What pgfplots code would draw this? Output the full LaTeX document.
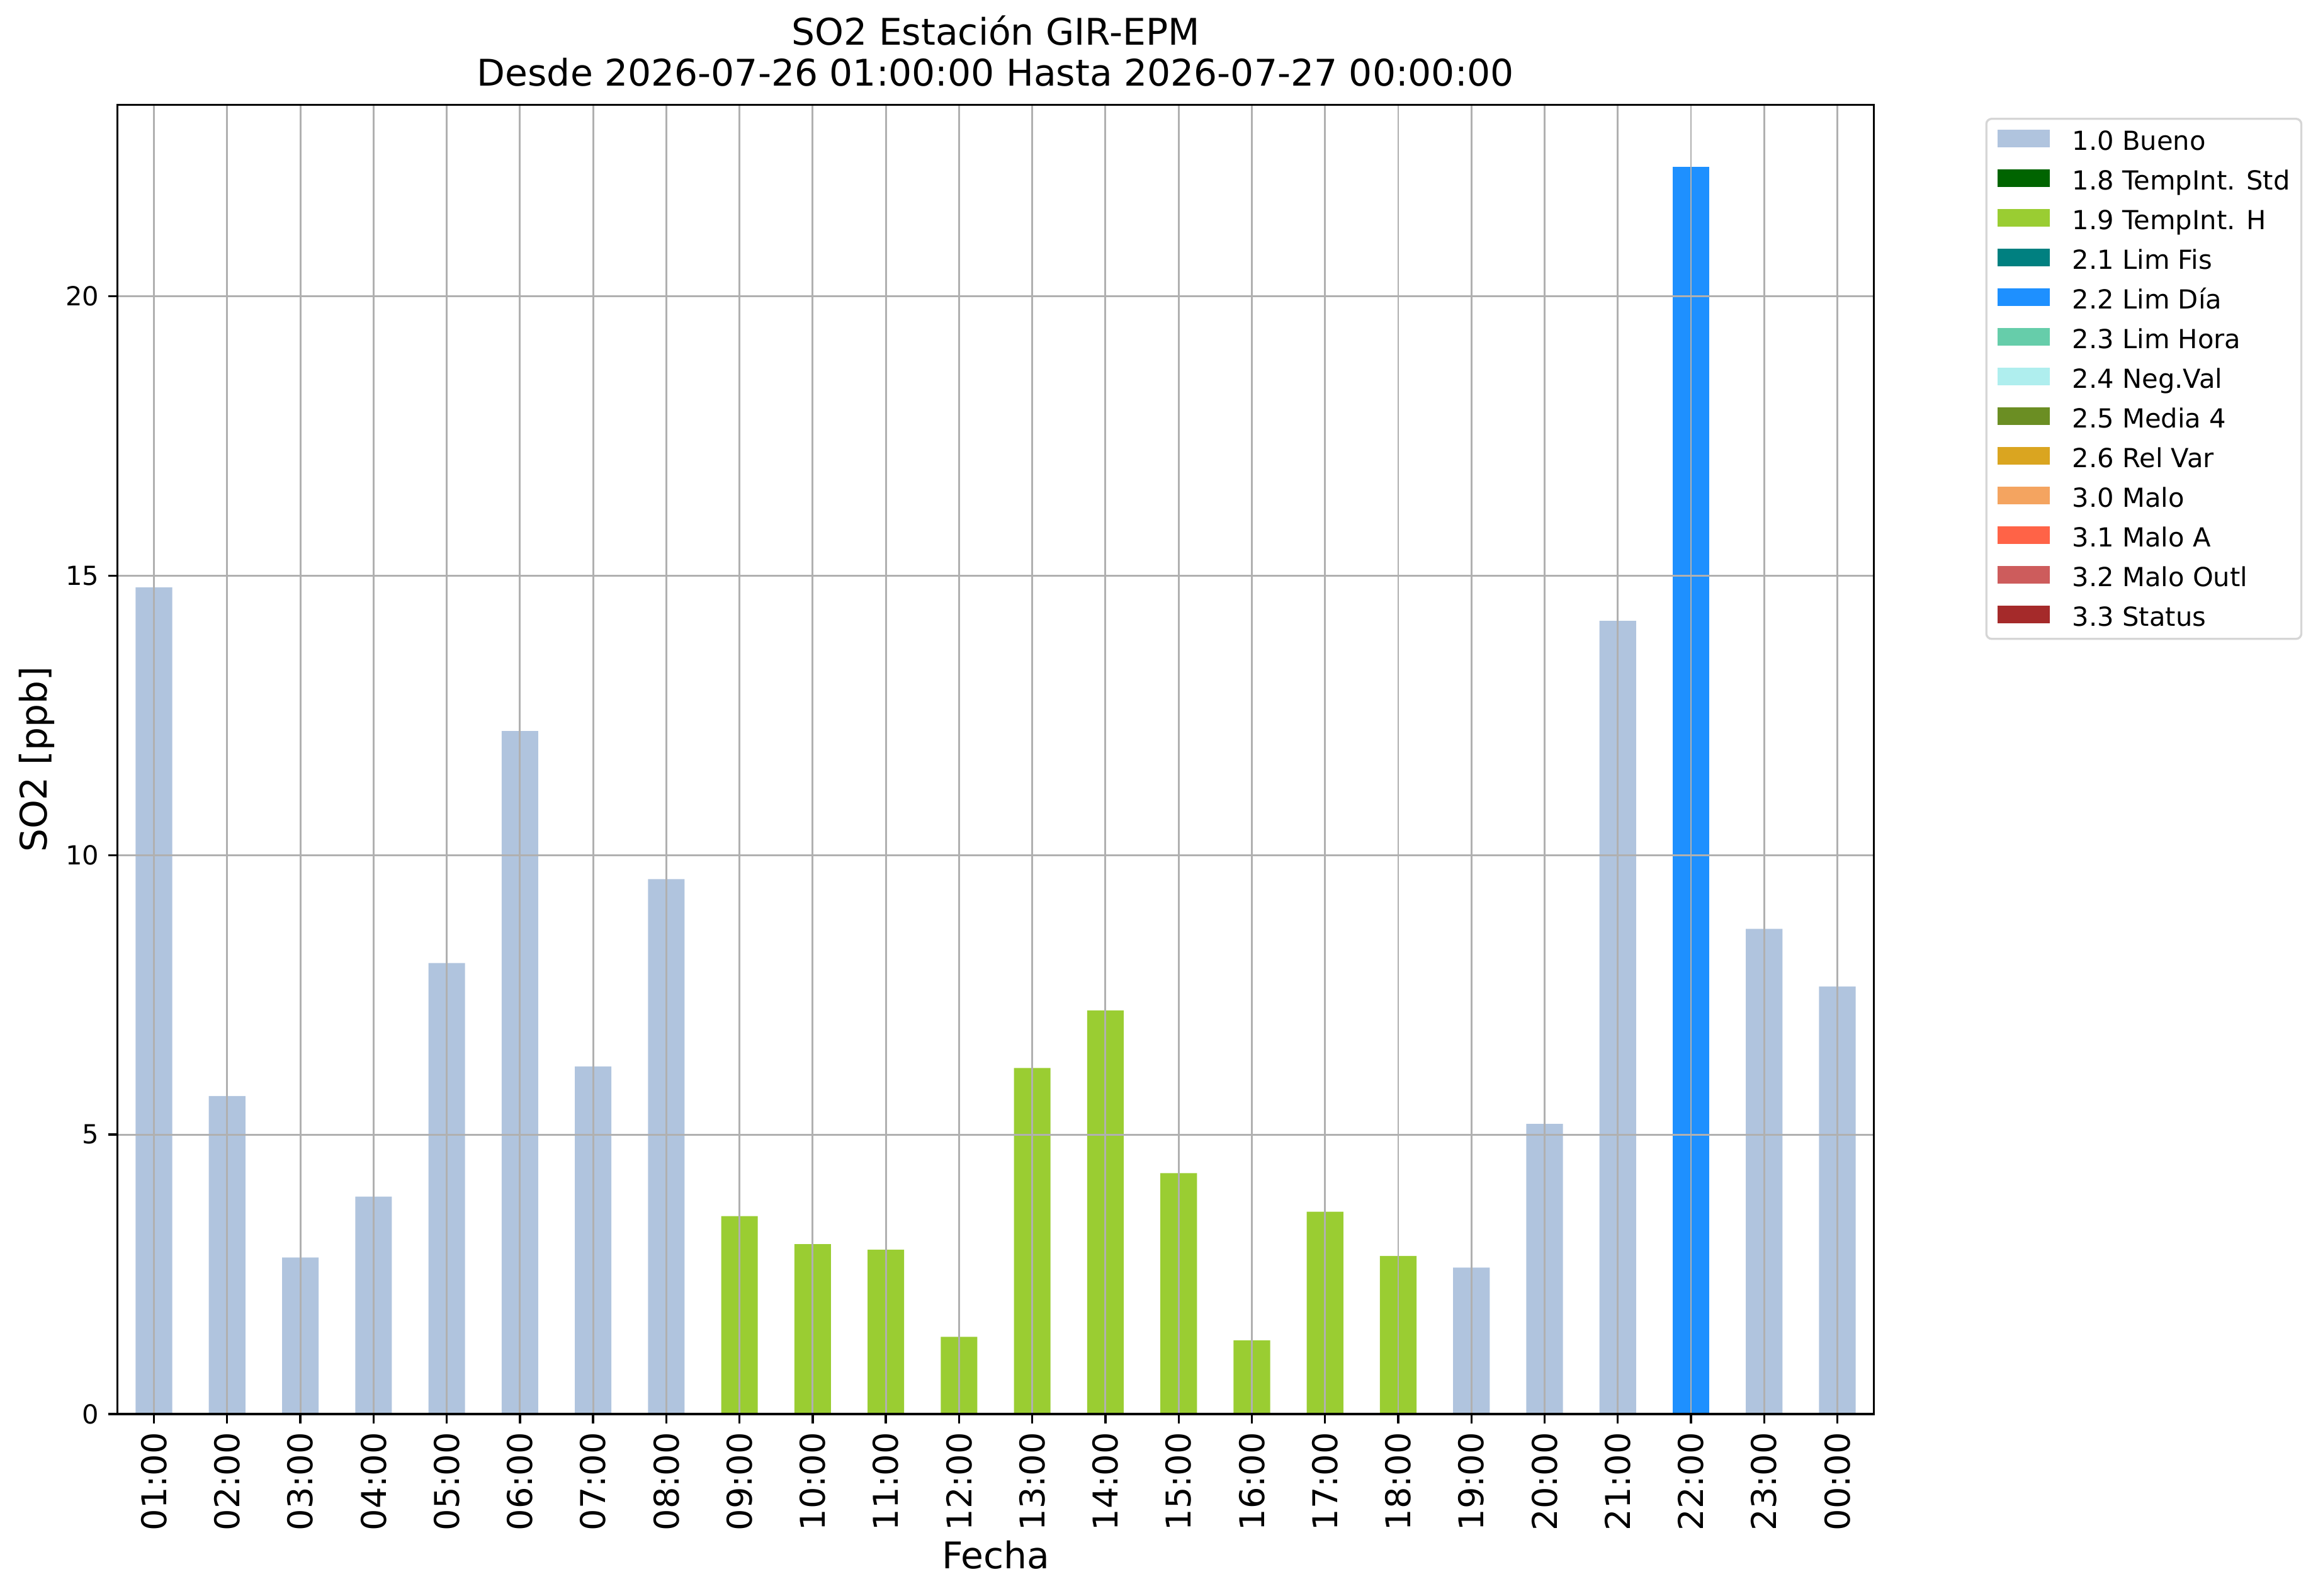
\documentclass[border=0pt]{standalone}
\usepackage{fontspec}
\setmainfont{DejaVu Sans}
\usepackage{pgfplots}
\pgfplotsset{compat=1.18}
\definecolor{c10}{HTML}{B0C4DE}
\definecolor{c18}{HTML}{006400}
\definecolor{c19}{HTML}{9ACD32}
\definecolor{c21}{HTML}{008080}
\definecolor{c22}{HTML}{1E90FF}
\definecolor{c23}{HTML}{66CDAA}
\definecolor{c24}{HTML}{AFEEEE}
\definecolor{c25}{HTML}{6B8E23}
\definecolor{c26}{HTML}{DAA520}
\definecolor{c30}{HTML}{F4A460}
\definecolor{c31}{HTML}{FF6347}
\definecolor{c32}{HTML}{CD5C5C}
\definecolor{c33}{HTML}{A52A2A}
\definecolor{gridgray}{HTML}{B0B0B0}
\definecolor{legframe}{HTML}{D6D6D6}
\pgfplotsset{
  mylegend/.style={legend image code/.code={\fill[##1, sharp corners] (0pt,-2.53pt) rectangle (19.9pt,4.37pt);}},
  mybar/.style={ybar, bar width=0.5, bar shift=0pt, draw=none, fill=#1, mylegend},
}
\begin{document}
\begin{tikzpicture}
\useasboundingbox (-44.74pt,-69.12pt) rectangle (838.94pt,539.04pt);
\begin{axis}[
  at={(0pt,0pt)}, anchor=south west,
  scale only axis, width=669.65pt, height=499.03pt,
  xmin=-0.5, xmax=23.5, ymin=0, ymax=23.42,
  xtick={0,...,23},
  xticklabels={01:00,02:00,03:00,04:00,05:00,06:00,07:00,08:00,09:00,10:00,11:00,12:00,13:00,14:00,15:00,16:00,17:00,18:00,19:00,20:00,21:00,22:00,23:00,00:00},
  ytick={0,5,10,15,20},
  tick pos=left, tick align=outside, major tick length=3.5pt,
  tick style={black, line width=0.8pt},
  axis line style={line width=0.8pt},
  grid=major, major grid style={color=gridgray, line width=0.7pt},
  axis on top,
  /pgf/number format/assume math mode=true,
  yticklabel style={font=\fontsize{10}{12}\selectfont},
  xticklabel style={font=\fontsize{13}{15}\selectfont, rotate=90, anchor=east},
  xlabel={Fecha}, ylabel={SO2 [ppb]},
  xlabel style={at={(axis description cs:0.5,0)}, anchor=base, yshift=-59pt, font=\fontsize{14}{16}\selectfont},
  ylabel style={at={(axis description cs:-0.046,0.5)}, anchor=center, font=\fontsize{14}{16}\selectfont},
  title={SO2 Estación GIR-EPM\\Desde 2026-07-26 01:00:00 Hasta 2026-07-27 00:00:00},
  title style={at={(axis description cs:0.5,1)}, align=center, anchor=south, inner sep=0pt, yshift=0.8pt, font=\fontsize{14}{15.6}\selectfont},
  legend cell align=left,
  legend style={at={(rel axis cs:1.0634,0.9902)}, anchor=north west,
    draw=legframe, line width=0.8pt, rounded corners=2pt, fill=white,
    font=\fontsize{10}{12}\selectfont,
    inner xsep=4.3pt, inner ysep=3.4pt, row sep=5.12pt, column sep=8.6pt,
    nodes={inner sep=0pt, text height=8.45pt, text depth=1.55pt}},
]
\addplot[mybar=c10] coordinates {(0,14.79) (1,5.69) (2,2.80) (3,3.89) (4,8.07) (5,12.22) (6,6.22) (7,9.57) (18,2.62) (19,5.19) (20,14.19) (22,8.68) (23,7.65)};
\addlegendentry{1.0 Bueno}
\addlegendimage{mylegend, fill=c18, draw=none}
\addlegendentry{1.8 TempInt. Std}
\addplot[mybar=c19] coordinates {(8,3.54) (9,3.04) (10,2.94) (11,1.38) (12,6.19) (13,7.22) (14,4.31) (15,1.32) (16,3.62) (17,2.83)};
\addlegendentry{1.9 TempInt. H}
\addlegendimage{mylegend, fill=c21, draw=none}
\addlegendentry{2.1 Lim Fis}
\addplot[mybar=c22] coordinates {(21,22.31)};
\addlegendentry{2.2 Lim Día}
\addlegendimage{mylegend, fill=c23, draw=none}
\addlegendentry{2.3 Lim Hora}
\addlegendimage{mylegend, fill=c24, draw=none}
\addlegendentry{2.4 Neg.Val}
\addlegendimage{mylegend, fill=c25, draw=none}
\addlegendentry{2.5 Media 4}
\addlegendimage{mylegend, fill=c26, draw=none}
\addlegendentry{2.6 Rel Var}
\addlegendimage{mylegend, fill=c30, draw=none}
\addlegendentry{3.0 Malo}
\addlegendimage{mylegend, fill=c31, draw=none}
\addlegendentry{3.1 Malo A}
\addlegendimage{mylegend, fill=c32, draw=none}
\addlegendentry{3.2 Malo Outl}
\addlegendimage{mylegend, fill=c33, draw=none}
\addlegendentry{3.3 Status}
\end{axis}
\end{tikzpicture}
\end{document}
